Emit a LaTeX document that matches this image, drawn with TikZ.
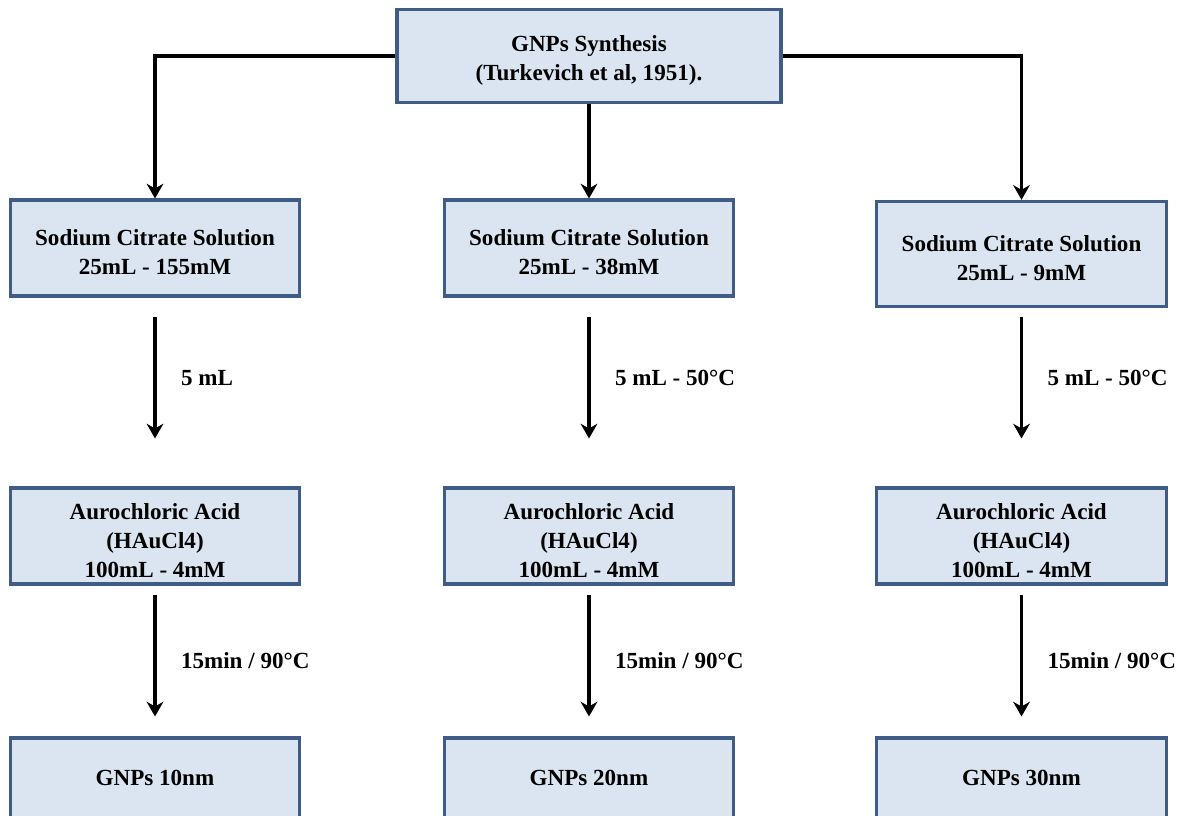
\documentclass[tikz,border=0pt]{standalone}
\usepackage{fontspec}
\setmainfont{Liberation Serif}
\usetikzlibrary{arrows.meta}

\definecolor{boxfill}{RGB}{219,229,241}
\definecolor{boxline}{RGB}{62,92,134}

\newcommand{\boxstrut}{\rule{0pt}{18.5pt}}

\tikzset{
    stepbox/.style={draw=boxline, fill=boxfill, line width=2.3pt,
        minimum width=217pt, align=center, font=\bfseries\fontsize{17.3}{21.6}\selectfont},
    flow/.style={line width=2.4pt, -{Stealth[length=11pt, width=12.5pt, inset=3.5pt]}},
    flowlabel/.style={anchor=west, xshift=15pt, font=\bfseries\fontsize{17.3}{20}\selectfont}
}

\begin{document}
\begin{tikzpicture}[x=0.75pt, y=-0.75pt]
        \useasboundingbox (0,0) rectangle (1181,815);
        \clip (0,0) rectangle (1181,815);

        % top box
        \node[stepbox, minimum width=288pt, minimum height=70pt] (synth) at (589,56)
            {\boxstrut GNPs Synthesis\\(Turkevich et al, 1951).};

        \foreach \i/\x/\cy/\ch/\conc/\dose/\size in {
            1/155/248/72/155mM/5 mL/10,
            2/589/248/72/38mM/5 mL - 50°C/20,
            3/1021.5/254/79/9mM/5 mL - 50°C/30}{

            \node[stepbox, minimum height=\ch pt] (citrate\i) at (\x,\cy)
                {\boxstrut Sodium Citrate Solution\\25mL - \conc};
            \node[stepbox, minimum height=72pt] (acid\i) at (\x,536)
                {\boxstrut Aurochloric Acid\\(HAuCl4)\\100mL - 4mM};
            \node[stepbox, minimum height=60pt] (gnp\i) at (\x,778)
                {GNPs \size nm};

            \draw[flow, shorten <=16pt, shorten >=36pt] (citrate\i.south |- 0,296) -- (acid\i.north)
                node[flowlabel, pos=0.43] {\dose};
            \draw[flow, shorten <=7pt, shorten >=15pt] (acid\i) -- (gnp\i)
                node[flowlabel, pos=0.5] {15min / 90°C};
        };

        % branches from the top box
        \draw[flow] (synth.west) -| (citrate1.north);
        \draw[flow] (synth.south) -- (citrate2.north);
        \draw[flow] (synth.east) -| (citrate3.north);

    \end{tikzpicture}
\end{document}
